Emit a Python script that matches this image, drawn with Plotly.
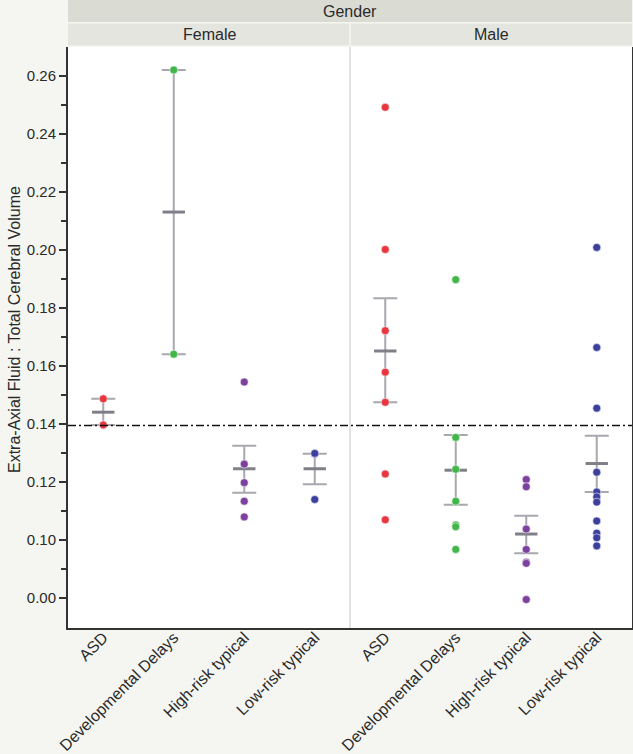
import plotly.graph_objects as go

# ---------------- data ----------------
genders = ["Female", "Male"]
categories = ["ASD", "Developmental Delays", "High-risk typical", "Low-risk typical"]
colors = ["#e8363f", "#43b64a", "#7b419c", "#3c409c"]

female_asd = [0.1487, 0.1397]
female_dd = [0.2621, 0.1641]
female_hr = [0.1545, 0.1262, 0.1198, 0.1134, 0.1080]
female_lr = [0.1299, 0.1299, 0.1140]

male_asd = [0.2492, 0.2002, 0.1722, 0.1579, 0.1475, 0.1228, 0.1070]
male_dd = [0.1898, 0.1354, 0.1244, 0.1134, 0.1052, 0.1046, 0.0968]
male_hr = [0.1209, 0.1184, 0.1038, 0.0968, 0.0924, 0.0920, 0.0795]
male_lr = [0.2009, 0.1664, 0.1455, 0.1234, 0.1166, 0.1149, 0.1131, 0.1066, 0.1024, 0.1008, 0.0980]

female_mean = [0.1441, 0.2131, 0.1246, 0.1246]
female_upper = [0.1487, 0.2621, 0.1325, 0.1298]
female_lower = [0.1397, 0.1641, 0.1163, 0.1193]
male_mean = [0.1652, 0.1241, 0.1021, 0.1264]
male_upper = [0.1834, 0.1362, 0.1084, 0.1360]
male_lower = [0.1475, 0.1122, 0.0955, 0.1166]

reference_value = 0.1395

y_tickvals = [0.08, 0.10, 0.12, 0.14, 0.16, 0.18, 0.20, 0.22, 0.24, 0.26]
y_ticktext = ["0.00", "0.10", "0.12", "0.14", "0.16", "0.18", "0.20", "0.22", "0.24", "0.26"]
y_minor = [0.09, 0.11, 0.13, 0.15, 0.17, 0.19, 0.21, 0.23, 0.25]
y_range = [0.0697, 0.2700]

# ---------------- figure ----------------
W, H_FIG = 633, 754
ML, MR, MT, MB = 68, 1, 47, 126
PW = W - ML - MR
PH = H_FIG - MT - MB

points = {
    "Female": [female_asd, female_dd, female_hr, female_lr],
    "Male": [male_asd, male_dd, male_hr, male_lr],
}
means = {"Female": female_mean, "Male": male_mean}
uppers = {"Female": female_upper, "Male": male_upper}
lowers = {"Female": female_lower, "Male": male_lower}

xpos, mean_y, err_plus, err_minus = [], [], [], []
for gi, g in enumerate(genders):
    for ci in range(len(categories)):
        xpos.append(gi * len(categories) + ci)
        mean_y.append(means[g][ci])
        err_plus.append(uppers[g][ci] - means[g][ci])
        err_minus.append(means[g][ci] - lowers[g][ci])

fig = go.Figure()

# mean marks with standard error whiskers
fig.add_trace(go.Scatter(
    x=xpos, y=mean_y, mode="markers",
    marker=dict(symbol="line-ew", size=16, line=dict(width=3, color="#7f7f87")),
    error_y=dict(type="data", symmetric=False, array=err_plus, arrayminus=err_minus,
                 color="#a8a8ae", thickness=2, width=12),
    showlegend=False, hoverinfo="skip",
))

# individual points
for ci, cat in enumerate(categories):
    xs, ys = [], []
    for gi, g in enumerate(genders):
        vals = points[g][ci]
        xs += [gi * len(categories) + ci] * len(vals)
        ys += vals
    fig.add_trace(go.Scatter(
        x=xs, y=ys, mode="markers", name=cat,
        marker=dict(size=8, color=colors[ci], line=dict(width=1, color="rgba(255,255,255,0.55)")),
        showlegend=False,
    ))

tickvals_x = list(range(len(genders) * len(categories)))
ticktext_x = categories * len(genders)

FS = 16
TXT = "#2a2a2a"

fig.update_layout(
    width=W, height=H_FIG, autosize=False,
    margin=dict(l=ML, r=MR, t=MT, b=MB, pad=0),
    paper_bgcolor="#f5f6f1",
    plot_bgcolor="#ffffff",
    font=dict(family="Liberation Sans, Arial, sans-serif", size=FS, color=TXT),
    showlegend=False,
    xaxis=dict(
        range=[-0.5, 7.5], tickvals=tickvals_x, ticktext=ticktext_x, tickangle=-45,
        showgrid=False, zeroline=False, showline=True, linecolor="#333333", linewidth=2,
        ticks="", tickfont=dict(size=FS, color=TXT), automargin=False,
        ticklabelstandoff=-8,
    ),
    yaxis=dict(
        range=y_range, tickvals=y_tickvals, ticktext=y_ticktext,
        showgrid=False, zeroline=False, showline=True, mirror=True,
        linecolor="#333333", linewidth=2,
        ticks="outside", ticklen=7, tickwidth=1.5, tickcolor="#333333",
        minor=dict(tickvals=y_minor, ticks="outside", ticklen=5, tickwidth=1.5, tickcolor="#333333"),
        tickfont=dict(size=15, color=TXT), automargin=False,
    ),
)

# divider between Female and Male panels
fig.add_shape(type="line", xref="paper", yref="paper", x0=0.5, x1=0.5, y0=0, y1=1,
              line=dict(color="#d9d9d9", width=1.5), layer="below")

# reference dash-dot line
fig.add_shape(type="line", xref="x", yref="y", x0=-0.5, x1=7.5, y0=reference_value, y1=reference_value,
              line=dict(color="#111111", width=1.5, dash="8px,3px,2px,3px"))

# header strips
def py(p):
    return 1 + (MT - p) / PH

fig.add_shape(type="rect", xref="paper", yref="paper", x0=0, x1=1, y0=py(22), y1=py(0),
              fillcolor="#dadbd3", line=dict(width=0))
fig.add_shape(type="rect", xref="paper", yref="paper", x0=0, x1=0.4985, y0=py(45.5), y1=py(23.5),
              fillcolor="#e4e5de", line=dict(width=0))
fig.add_shape(type="rect", xref="paper", yref="paper", x0=0.5015, x1=1, y0=py(45.5), y1=py(23.5),
              fillcolor="#e4e5de", line=dict(width=0))

fig.add_annotation(text="Gender", xref="paper", yref="paper", x=0.5, y=py(11.5),
                   xanchor="center", yanchor="middle",
                   showarrow=False, font=dict(size=FS, color=TXT))
for gi, g in enumerate(genders):
    fig.add_annotation(text=g, xref="paper", yref="paper", x=0.25 + 0.5 * gi, y=py(34.5),
                       xanchor="center", yanchor="middle",
                       showarrow=False, font=dict(size=FS, color=TXT))

fig.add_annotation(text="Extra-Axial Fluid : Total Cerebral Volume", xref="paper", yref="paper",
                   x=(14 - ML) / PW, y=1 - (330 - MT) / PH, textangle=-90,
                   xanchor="center", yanchor="middle", showarrow=False,
                   font=dict(size=FS, color=TXT))

page_fix = (
    "document.body.style.margin='0';"
    "document.body.style.padding='0';"
    "document.body.style.overflow='hidden';"
    "var gd=document.getElementById('{plot_id}');"
    "Plotly.relayout(gd,{width:%d,height:%d});" % (W, H_FIG)
)

fig.write_html("out.html", post_script=page_fix, config={"displayModeBar": False})
